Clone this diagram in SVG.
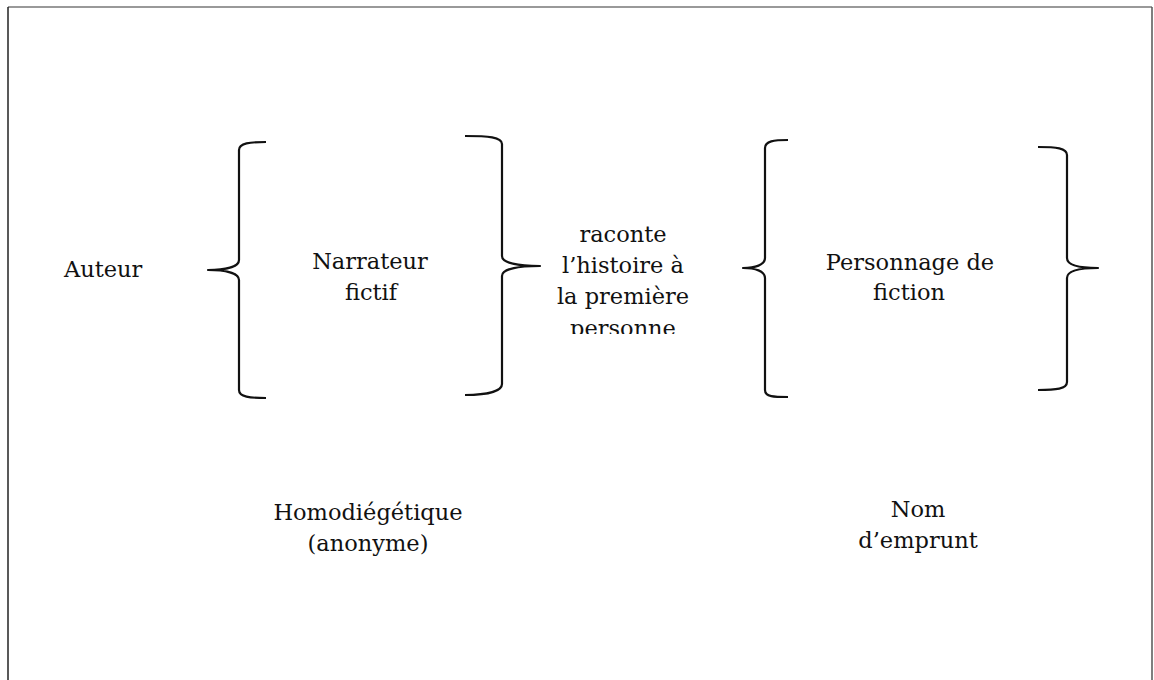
<svg xmlns="http://www.w3.org/2000/svg" width="1154" height="680" viewBox="0 0 1154 680">
  <defs>
    <style>
      .lbl { font-family: "DejaVu Serif", "Liberation Serif", serif; font-size: 22.5px; fill: #111; }
      .mid { text-anchor: middle; }
      .brace { fill: none; stroke: #111; stroke-width: 2.2; stroke-linejoin: round; }
    </style>
    <clipPath id="clip-middle">
      <rect x="540" y="200" width="170" height="134"/>
    </clipPath>
  </defs>

  <rect x="0" y="0" width="1154" height="680" fill="#fff"/>

  <!-- page frame: top, left and right edges only -->
  <g id="frame">
    <line x1="8" y1="7" x2="1152" y2="7" stroke="#777" stroke-width="1.5"/>
    <line x1="8" y1="7" x2="8" y2="680" stroke="#222" stroke-width="1.5"/>
    <line x1="1152" y1="7" x2="1152" y2="680" stroke="#555" stroke-width="1.5"/>
  </g>

  <g id="auteur">
    <text class="lbl" x="64" y="277">Auteur</text>
  </g>

  <!-- curly braces grouping the middle terms -->
  <g id="connectors">
    <path id="brace-narr-left" class="brace" d="M266,142 C250,142 239,143 239,150 L239,260 C239,267 225,270 208,270 C225,270 239,273 239,280 L239,390 C239,397 250,398 266,398"/>
    <path id="brace-narr-right" class="brace" d="M465,136 C488,136 502,137 502,144 L502,256 C502,263 518,266 540,266 C518,266 502,269 502,276 L502,384 C502,391 488,395 465,395"/>
    <path id="brace-pers-left" class="brace" d="M788,140 C774,140 765,141 765,148 L765,258 C765,265 755,268 743,268 C755,268 765,271 765,278 L765,390 C765,397 774,397 788,397"/>
    <path id="brace-pers-right" class="brace" d="M1038,147 C1056,147 1067,148 1067,155 L1067,258 C1067,265 1080,268 1098,268 C1080,268 1067,271 1067,278 L1067,382 C1067,389 1056,390 1038,390"/>
  </g>

  <g id="narrateur">
    <text class="lbl mid" x="370" y="269">Narrateur</text>
    <text class="lbl mid" x="371" y="300">fictif</text>
  </g>

  <g id="raconte" clip-path="url(#clip-middle)">
    <text class="lbl mid" x="623" y="242">raconte</text>
    <text class="lbl mid" x="623" y="273">l’histoire à</text>
    <text class="lbl mid" x="623" y="304">la première</text>
    <text class="lbl mid" x="623" y="336">personne</text>
  </g>

  <g id="personnage">
    <text class="lbl mid" x="910" y="270">Personnage de</text>
    <text class="lbl mid" x="909" y="300">fiction</text>
  </g>

  <g id="homodiegetique">
    <text class="lbl mid" x="368" y="520">Homodiégétique</text>
    <text class="lbl mid" x="368" y="551">(anonyme)</text>
  </g>

  <g id="nom-emprunt">
    <text class="lbl mid" x="918" y="517">Nom</text>
    <text class="lbl mid" x="918" y="548">d’emprunt</text>
  </g>
</svg>
